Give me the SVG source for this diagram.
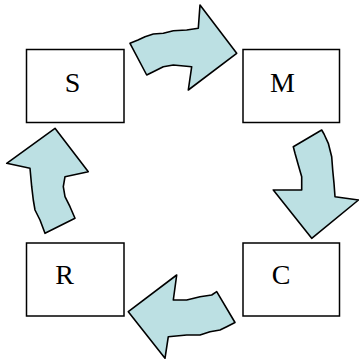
<svg xmlns="http://www.w3.org/2000/svg" width="359" height="364" viewBox="0 0 359 364">
  <style>
    .box { fill: #ffffff; stroke: #000000; stroke-width: 1.5; }
    .lbl { font-family: "Liberation Serif", "DejaVu Serif", serif; font-size: 28px; fill: #000000; }
    .arrow { fill: #bce0e3; stroke: #000000; stroke-width: 1.6; stroke-linejoin: round; }
  </style>
  <rect width="359" height="364" fill="#ffffff"/>

  <!-- curved block arrows forming the cycle -->
  <g id="connectors">
    <path class="arrow" d="M130,43.3 L138,40 L145,36.7 L153.3,34 L163.3,33.3 L173.3,30.7 L186.7,30 L198.3,28.3 L200,5 L236.7,53.3 L188.3,90 L191.7,66.7 L173.3,65 L163.3,66.7 L153.3,71.7 L146.7,75 Z"/>
    <path class="arrow" d="M293.3,146.7 L321.7,130 L324,134 L328.3,143.3 L331.7,156.7 L332.7,170 L334,183.3 L335,196.7 L358.5,200 L311.7,238.3 L273.3,190 L301.7,190 L301.7,176.7 L298.3,165 L295,153.3 Z"/>
    <path class="arrow" d="M128.3,311.7 L176.7,275 L173.3,300 L186.7,300 L200,296.7 L211.7,295 L216.7,291.7 L235,322.5 L226.7,326.7 L220,330 L210,331.7 L200,335 L186.7,335 L168.3,336.7 L165,358.3 Z"/>
    <path class="arrow" d="M55,128.3 L88.3,171.7 L65,176.7 L63.3,186.7 L65,196.7 L70,206.7 L75,218.3 L45,233.3 L40,220 L35,210 L33.3,200 L31.7,186.7 L30,168.3 L6.7,163.3 Z"/>
  </g>

  <g id="node-s">
    <rect class="box" x="26.5" y="49.5" width="97.5" height="73"/>
    <text class="lbl" x="72.5" y="91.5" text-anchor="middle">S</text>
  </g>
  <g id="node-m">
    <rect class="box" x="243" y="49.5" width="96.5" height="73"/>
    <text class="lbl" x="282.5" y="91.5" text-anchor="middle">M</text>
  </g>
  <g id="node-r">
    <rect class="box" x="26.5" y="243" width="97.5" height="73"/>
    <text class="lbl" x="64.5" y="283.5" text-anchor="middle">R</text>
  </g>
  <g id="node-c">
    <rect class="box" x="243" y="243" width="96.5" height="73"/>
    <text class="lbl" x="281" y="283.5" text-anchor="middle">C</text>
  </g>
</svg>
